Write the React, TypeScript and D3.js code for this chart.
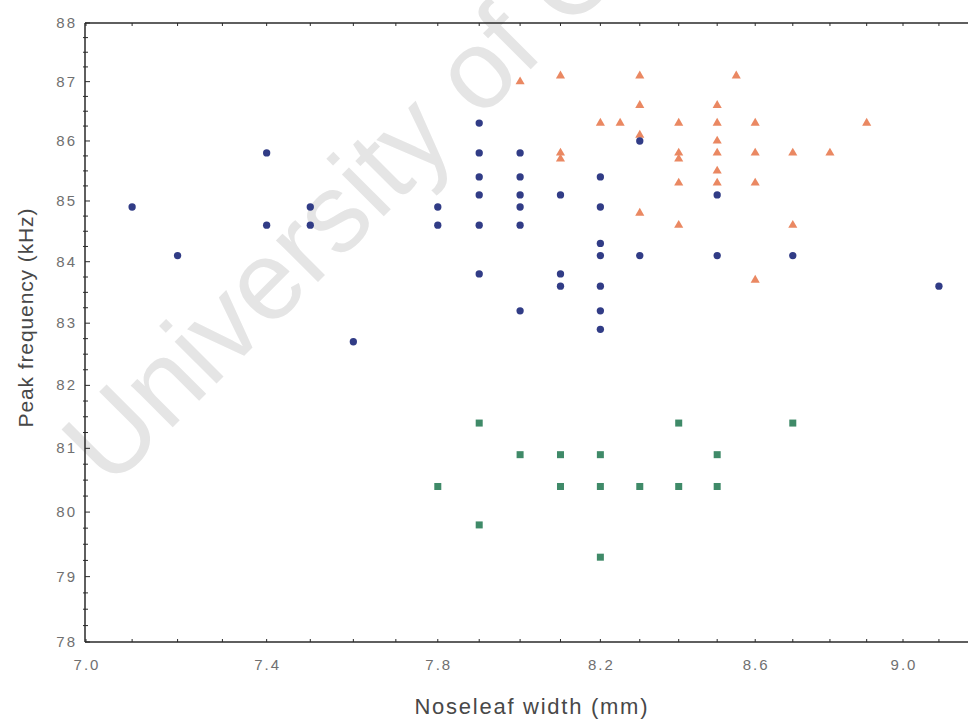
import React from "react";
import * as d3 from "d3";

// Noseleaf width (mm) vs. peak echolocation frequency (kHz), three groups
const groupCircle: [number, number][] = [
  [7.1, 84.9], [7.2, 84.1], [7.4, 85.8], [7.4, 84.6], [7.5, 84.9], [7.5, 84.6],
  [7.6, 82.7], [7.8, 84.9], [7.8, 84.6], [7.9, 86.3], [7.9, 85.8], [7.9, 85.4],
  [7.9, 85.1], [7.9, 84.6], [7.9, 83.8], [8.0, 85.8], [8.0, 85.4], [8.0, 85.1],
  [8.0, 84.9], [8.0, 84.6], [8.0, 83.2], [8.1, 85.1], [8.1, 83.8], [8.1, 83.6],
  [8.2, 85.4], [8.2, 84.9], [8.2, 84.3], [8.2, 84.1], [8.2, 83.6], [8.2, 83.2],
  [8.2, 82.9], [8.3, 86.0], [8.3, 84.1], [8.5, 85.1], [8.5, 84.1], [8.7, 84.1],
  [9.1, 83.6],
];

const groupTriangle: [number, number][] = [
  [8.0, 87.0], [8.1, 87.1], [8.1, 85.8], [8.1, 85.7], [8.2, 86.3], [8.25, 86.3],
  [8.3, 87.1], [8.3, 86.6], [8.3, 86.1], [8.3, 84.8], [8.4, 86.3], [8.4, 85.8],
  [8.4, 85.7], [8.4, 85.3], [8.4, 84.6], [8.5, 86.6], [8.5, 86.3], [8.5, 86.0],
  [8.5, 85.8], [8.5, 85.5], [8.5, 85.3], [8.55, 87.1], [8.6, 86.3], [8.6, 85.8],
  [8.6, 85.3], [8.6, 83.7], [8.7, 85.8], [8.7, 84.6], [8.8, 85.8], [8.9, 86.3],
];

const groupSquare: [number, number][] = [
  [7.8, 80.4], [7.9, 81.4], [7.9, 79.8], [8.0, 80.9], [8.1, 80.9], [8.1, 80.4],
  [8.2, 80.9], [8.2, 80.4], [8.2, 79.3], [8.3, 80.4], [8.4, 81.4], [8.4, 80.4],
  [8.5, 80.9], [8.5, 80.4], [8.7, 81.4],
];

const xTickLabels = [7.0, 7.4, 7.8, 8.2, 8.6, 9.0];
const yTickLabels = [78, 79, 80, 81, 82, 83, 84, 85, 86, 87, 88];

const W = 968;
const H = 719;
const left = 85;
const top = 23;
const bottom = 642;
const right = 968;

export default function App() {
  const x = d3.scaleLog().domain([7.0, 9.0]).range([86, 903]);
  const y = d3.scaleLog().domain([78, 88]).range([bottom, top]);

  const xMinor = d3.range(70, 93).map((d) => d / 10).filter((v) => x(v) < right);
  const yMinor = d3.range(0, 41).map((i) => 78 + i * 0.25);

  const tri = d3.symbol().type(d3.symbolTriangle).size(36)()!;
  const circ = d3.symbol().type(d3.symbolCircle).size(42)()!;

  const axisColor = "#2a2a2a";
  const labelColor = "#707070";

  return (
    <svg
      width={W}
      height={H}
      style={{ position: "absolute", left: 0, top: 0, background: "#fff" }}
      fontFamily="'Liberation Sans', Arial, sans-serif"
    >
      <rect width={W} height={H} fill="#fff" />

      {/* faint diagonal watermark */}
      <text
        transform="translate(110,490) rotate(-45)"
        fontSize={112}
        fill="#e5e5e5"
      >
        University of Ca
      </text>

      {/* frame lines */}
      <line x1={left} x2={left} y1={top} y2={bottom} stroke={axisColor} strokeWidth={1.5} />
      <line x1={left} x2={right} y1={bottom} y2={bottom} stroke={axisColor} strokeWidth={1.5} />
      <line x1={left} x2={right} y1={top} y2={top} stroke={axisColor} strokeWidth={1.5} />

      {/* x ticks, bottom and top */}
      {xMinor.map((v) => (
        <g key={"xt" + v}>
          <line x1={x(v)} x2={x(v)} y1={bottom} y2={bottom - 3} stroke={axisColor} strokeWidth={1} />
          <line x1={x(v)} x2={x(v)} y1={top} y2={top + 3} stroke={axisColor} strokeWidth={1} />
        </g>
      ))}

      {/* y ticks */}
      {yMinor.map((v) => {
        const major = Math.abs(v - Math.round(v)) < 1e-6;
        return (
          <line
            key={"yt" + v}
            x1={major ? left : left - 2}
            x2={major ? left + 5 : left + 3}
            y1={y(v)}
            y2={y(v)}
            stroke={axisColor}
            strokeWidth={1}
          />
        );
      })}

      {/* tick labels */}
      {xTickLabels.map((v) => (
        <text
          key={"xl" + v}
          x={x(v) + 1}
          y={670}
          fontSize={15}
          letterSpacing={2}
          textAnchor="middle"
          fill={labelColor}
        >
          {v.toFixed(1)}
        </text>
      ))}
      {yTickLabels.map((v) => (
        <text
          key={"yl" + v}
          x={77}
          y={y(v) + 5}
          fontSize={15}
          letterSpacing={2}
          textAnchor="end"
          fill={labelColor}
        >
          {v}
        </text>
      ))}

      {/* axis titles */}
      <text
        x={531}
        y={714}
        fontSize={22}
        textAnchor="middle"
        fill="#484848"
        textLength={233}
        lengthAdjust="spacing"
      >
        Noseleaf width (mm)
      </text>
      <text
        transform="translate(33,318) rotate(-90)"
        fontSize={21}
        textAnchor="middle"
        fill="#484848"
        textLength={219}
        lengthAdjust="spacing"
      >
        Peak frequency (kHz)
      </text>

      {/* markers */}
      {groupSquare.map(([a, b], i) => (
        <rect
          key={"s" + i}
          x={x(a) - 3.5}
          y={y(b) - 3.5}
          width={7}
          height={7}
          fill="#3f8a68"
        />
      ))}
      {groupTriangle.map(([a, b], i) => (
        <path
          key={"t" + i}
          d={tri}
          transform={`translate(${x(a)},${y(b)})`}
          fill="#ea8862"
        />
      ))}
      {groupCircle.map(([a, b], i) => (
        <path
          key={"c" + i}
          d={circ}
          transform={`translate(${x(a)},${y(b)})`}
          fill="#313c86"
        />
      ))}
    </svg>
  );
}
